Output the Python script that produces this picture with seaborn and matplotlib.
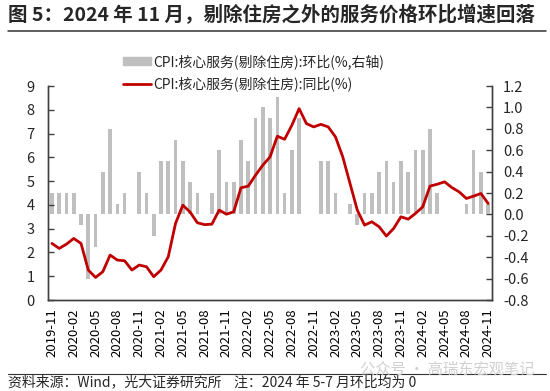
import matplotlib
matplotlib.use('agg')
import matplotlib.pyplot as plt
import seaborn as sns
import pandas as pd
import numpy as np
from matplotlib.patches import Patch
from matplotlib.lines import Line2D

# monthly, 2019-11 .. 2024-11
months = pd.date_range('2019-11-01', periods=61, freq='MS').strftime('%Y-%m').tolist()

# CPI core services ex housing, m/m (%, right axis)
mom = [0.2, 0.2, 0.2, 0.2, -0.1, -0.6, -0.3, 0.4, 0.8, 0.1,
       0.2, 0.0, 0.4, 0.2, -0.2, 0.5, 0.5, 0.7, 0.5, 0.3,
       0.2, 0.0, 0.2, 0.6, 0.3, 0.3, 0.7, 0.5, 0.9, 1.0,
       0.9, 1.1, 0.2, 0.6, 0.9, 0.0, 0.0, 0.5, 0.5, 0.2,
       0.0, 0.1, -0.1, 0.2, 0.2, 0.4, 0.5, 0.3, 0.5, 0.4,
       0.6, 0.6, 0.8, 0.2, 0.0, 0.0, 0.0, 0.1, 0.6, 0.4,
       0.1]

# CPI core services ex housing, y/y (%, left axis)
yoy = [2.38, 2.17, 2.35, 2.59, 2.38, 1.26, 0.95, 1.19, 1.89, 1.68,
       1.65, 1.26, 1.47, 1.40, 0.98, 1.26, 1.82, 3.22, 3.99, 3.70,
       3.25, 3.17, 3.19, 3.78, 3.61, 3.71, 4.72, 4.79, 5.25, 5.67,
       6.02, 6.89, 6.76, 7.35, 8.05, 7.42, 7.28, 7.39, 7.28, 6.86,
       6.02, 4.90, 3.78, 3.15, 3.29, 3.08, 2.69, 3.01, 3.50, 3.40,
       3.64, 3.92, 4.79, 4.87, 4.97, 4.73, 4.55, 4.27, 4.37, 4.48,
       4.06]

bar_label = 'CPI:核心服务(剔除住房):环比(%,右轴)'
line_label = 'CPI:核心服务(剔除住房):同比(%)'
title = '图 5：2024 年 11 月，剔除住房之外的服务价格环比增速回落'
note = '资料来源：Wind，光大证券研究所    注：2024 年 5-7 月环比均为 0'

BAR_COLOR = '#bfbfbf'
LINE_COLOR = '#c00000'
AXIS_COLOR = '#404040'

sns.set_style('white')
plt.rcParams['font.family'] = ['Noto Sans CJK SC', 'DejaVu Sans']
plt.rcParams['axes.unicode_minus'] = False

df = pd.DataFrame({'month': months, 'mom': mom, 'yoy': yoy})
df['pos'] = np.arange(len(df))

fig = plt.figure(figsize=(5.5, 3.91), dpi=100)
ax = fig.add_axes([0.0878, 0.2327, 0.8064, 0.5473])

# bars (right axis scale)
sns.barplot(data=df, x='month', y='mom', color=BAR_COLOR, saturation=1,
            width=0.5, linewidth=0, ax=ax)
ax2 = ax.twinx()
sns.lineplot(data=df, x='pos', y='yoy', color=LINE_COLOR, linewidth=2, ax=ax2)

ax.yaxis.tick_right()
ax2.yaxis.tick_left()
ax.set_ylim(-0.8, 1.2)
ax2.set_ylim(0, 9)
ax.set_xlim(-0.5, 60.5)

rticks = [-0.8, -0.6, -0.4, -0.2, 0.0, 0.2, 0.4, 0.6, 0.8, 1.0, 1.2]
ax.set_yticks(rticks)
ax.set_yticklabels(['%.1f' % v for v in rticks])
ax2.set_yticks(range(0, 10))

ax.set_xticks(range(0, 61, 3))
ax.set_xticklabels(months[::3], rotation=90)
ax.set_xticks(np.arange(-0.5, 60, 3), minor=True)

for a in (ax, ax2):
    a.set_xlabel('')
    a.set_ylabel('')
    a.spines['top'].set_visible(False)
    for s in ('left', 'right', 'bottom'):
        a.spines[s].set_color(AXIS_COLOR)
        a.spines[s].set_linewidth(1)

ax.tick_params(axis='x', which='major', length=0, labelsize=9.5, pad=6, colors='black')
ax.tick_params(axis='x', which='minor', direction='in', length=4, width=1, color=AXIS_COLOR)
ax.tick_params(axis='y', direction='in', length=4, width=1, color=AXIS_COLOR,
               labelsize=10.5, pad=8)
ax2.tick_params(axis='y', direction='in', length=4, width=1, color=AXIS_COLOR,
                labelsize=10.5, pad=10)

handles = [Patch(color=BAR_COLOR), Line2D([], [], color=LINE_COLOR, lw=2)]
fig.legend(handles, [bar_label, line_label], loc='upper left',
           bbox_to_anchor=(123 / 550, 1 - 54 / 391), frameon=False, fontsize=10,
           handlelength=2.0, handleheight=0.45, handletextpad=0.2,
           labelspacing=0.55, borderpad=0, borderaxespad=0)

fig.text(8 / 550, 1 - 15 / 391, title, fontsize=14, fontweight='bold', va='center', ha='left')
fig.add_artist(Line2D([8 / 550, 546 / 550], [1 - 31 / 391] * 2, color='#333333', lw=1.1))
fig.add_artist(Line2D([8 / 550, 546 / 550], [1 - 373.5 / 391] * 2, color='#333333', lw=0.8))
fig.text(360 / 550, 1 - 369 / 391, '公众号 · 高瑞东宏观笔记', fontsize=11, color='#d0d0d0',
         va='center', ha='left')
fig.text(8 / 550, 1 - 382 / 391, note, fontsize=10, va='center', ha='left')

fig.savefig('out.png', dpi=100)
